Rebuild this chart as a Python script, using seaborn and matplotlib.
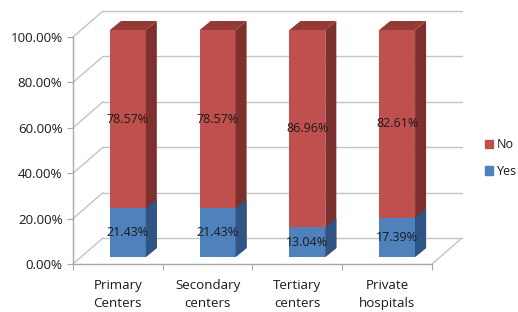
import matplotlib
matplotlib.use("Agg")
import numpy as np
import pandas as pd
import matplotlib.pyplot as plt
import seaborn as sns
from matplotlib.patches import Polygon, Patch

categories = ["Primary\nCenters", "Secondary\ncenters", "Tertiary\ncenters", "Private\nhospitals"]
yes_values = [21.43, 21.43, 13.04, 17.39]
no_values = [78.57, 78.57, 86.96, 82.61]
y_ticks = [0, 20, 40, 60, 80, 100]
y_tick_labels = ["0.00%", "20.00%", "40.00%", "60.00%", "80.00%", "100.00%"]

RED, RED_SIDE, RED_TOP = "#C0504D", "#7E302E", "#943A37"
BLUE, BLUE_SIDE = "#4F81BD", "#2F5586"
GRID, AXIS = "#C4C4C4", "#A8A8A8"
TXT = "#1A1A1A"

sns.set_theme(style="white")
plt.rcParams['font.family'] = ['Open Sans', 'DejaVu Sans']

W, H = 518, 312
fig = plt.figure(figsize=(W / 100, H / 100), dpi=100)
fig.patch.set_facecolor("white")
ax_l, ax_b, ax_w, ax_h = 73, 48, 359, 227
ax = fig.add_axes([ax_l / W, ax_b / H, ax_w / W, ax_h / H])

df = pd.DataFrame({"category": categories, "Yes": yes_values, "No": no_values})
df["Total"] = df["Yes"] + df["No"]

ux = 4.0 / ax_w   # data units per pixel (x)
uy = 100.0 / ax_h  # data units per pixel (y)

# depth geometry in pixels
Dx, Dy = 30 * ux, 26 * uy      # full floor depth
Bx, By = 10 * ux, 7 * uy       # bar front plane offset
dx, dy = 11 * ux, 9 * uy       # bar thickness

# back wall, left wall, floor
for t in y_ticks:
    ax.plot([-0.5 + Dx, 3.5 + Dx], [t + Dy, t + Dy], color=GRID, lw=1, zorder=0, clip_on=False)
    ax.plot([-0.5, -0.5 + Dx], [t, t + Dy], color=GRID, lw=1, zorder=0, clip_on=False)
ax.plot([3.5, 3.5 + Dx], [0, Dy], color=GRID, lw=1, zorder=0, clip_on=False)
ax.plot([-0.5, 3.5], [0, 0], color=AXIS, lw=1, zorder=1, clip_on=False)
ax.plot([-0.5, -0.5], [0, 100], color=AXIS, lw=1, zorder=1, clip_on=False)

# bars: total (No on top) then Yes
n_before = len(ax.patches)
sns.barplot(data=df, x="category", y="Total", color=RED, width=0.4, saturation=1,
            linewidth=0, ax=ax, zorder=2, clip_on=False)
red_bars = ax.patches[n_before:]
n_before = len(ax.patches)
sns.barplot(data=df, x="category", y="Yes", color=BLUE, width=0.4, saturation=1,
            linewidth=0, ax=ax, zorder=3, clip_on=False)
blue_bars = ax.patches[n_before:]

for p in list(red_bars) + list(blue_bars):
    p.set_x(p.get_x() + Bx)
    p.set_y(p.get_y() + By)

for p in red_bars:
    x0, y0, w, h = p.get_x(), p.get_y(), p.get_width(), p.get_height()
    side = Polygon([(x0 + w, y0), (x0 + w + dx, y0 + dy), (x0 + w + dx, y0 + h + dy), (x0 + w, y0 + h)],
                   closed=True, facecolor=RED_SIDE, edgecolor="none", zorder=2, clip_on=False)
    top = Polygon([(x0, y0 + h), (x0 + dx, y0 + h + dy), (x0 + w + dx, y0 + h + dy), (x0 + w, y0 + h)],
                  closed=True, facecolor=RED_TOP, edgecolor="none", zorder=2, clip_on=False)
    ax.add_patch(side)
    ax.add_patch(top)
for p in blue_bars:
    x0, y0, w, h = p.get_x(), p.get_y(), p.get_width(), p.get_height()
    side = Polygon([(x0 + w, y0), (x0 + w + dx, y0 + dy), (x0 + w + dx, y0 + h + dy), (x0 + w, y0 + h)],
                   closed=True, facecolor=BLUE_SIDE, edgecolor="none", zorder=3, clip_on=False)
    ax.add_patch(side)

# value labels
for pr, pb, yv, nv in zip(red_bars, blue_bars, yes_values, no_values):
    cx = pb.get_x() + pb.get_width() / 2
    ax.text(cx, By + yv / 2, f"{yv:.2f}%", ha="center", va="center", fontsize=9, color=TXT, zorder=5)
    ax.text(cx, By + yv + nv / 2, f"{nv:.2f}%", ha="center", va="center", fontsize=9, color=TXT, zorder=5)

ax.set_xlim(-0.5, 3.5)
ax.set_ylim(0, 100)
for s in ax.spines.values():
    s.set_visible(False)
ax.set_xlabel("")
ax.set_ylabel("")

ax.set_yticks(y_ticks)
ax.set_yticklabels(y_tick_labels)
ax.set_xticks(range(len(categories)))
ax.set_xticklabels(categories, linespacing=1.45)
ax.set_xticks([-0.5, 0.5, 1.5, 2.5, 3.5], minor=True)
ax.tick_params(axis="y", left=True, length=4.3, width=0.8, color=AXIS, pad=3.2, labelsize=9.6, labelcolor=TXT)
ax.tick_params(axis="x", which="major", bottom=False, length=0, pad=11, labelsize=9.6, labelcolor=TXT)
ax.tick_params(axis="x", which="minor", bottom=True, length=4.3, width=0.8, color=AXIS)

fig.legend(handles=[Patch(color=RED, label="No"), Patch(color=BLUE, label="Yes")],
           loc="center left", bbox_to_anchor=(485 / W, 1 - 158 / H), frameon=False,
           handlelength=0.65, handleheight=0.65, handletextpad=0.3, labelspacing=1.1,
           borderpad=0, borderaxespad=0, fontsize=9, labelcolor=TXT)

fig.savefig("out.png", dpi=100)
